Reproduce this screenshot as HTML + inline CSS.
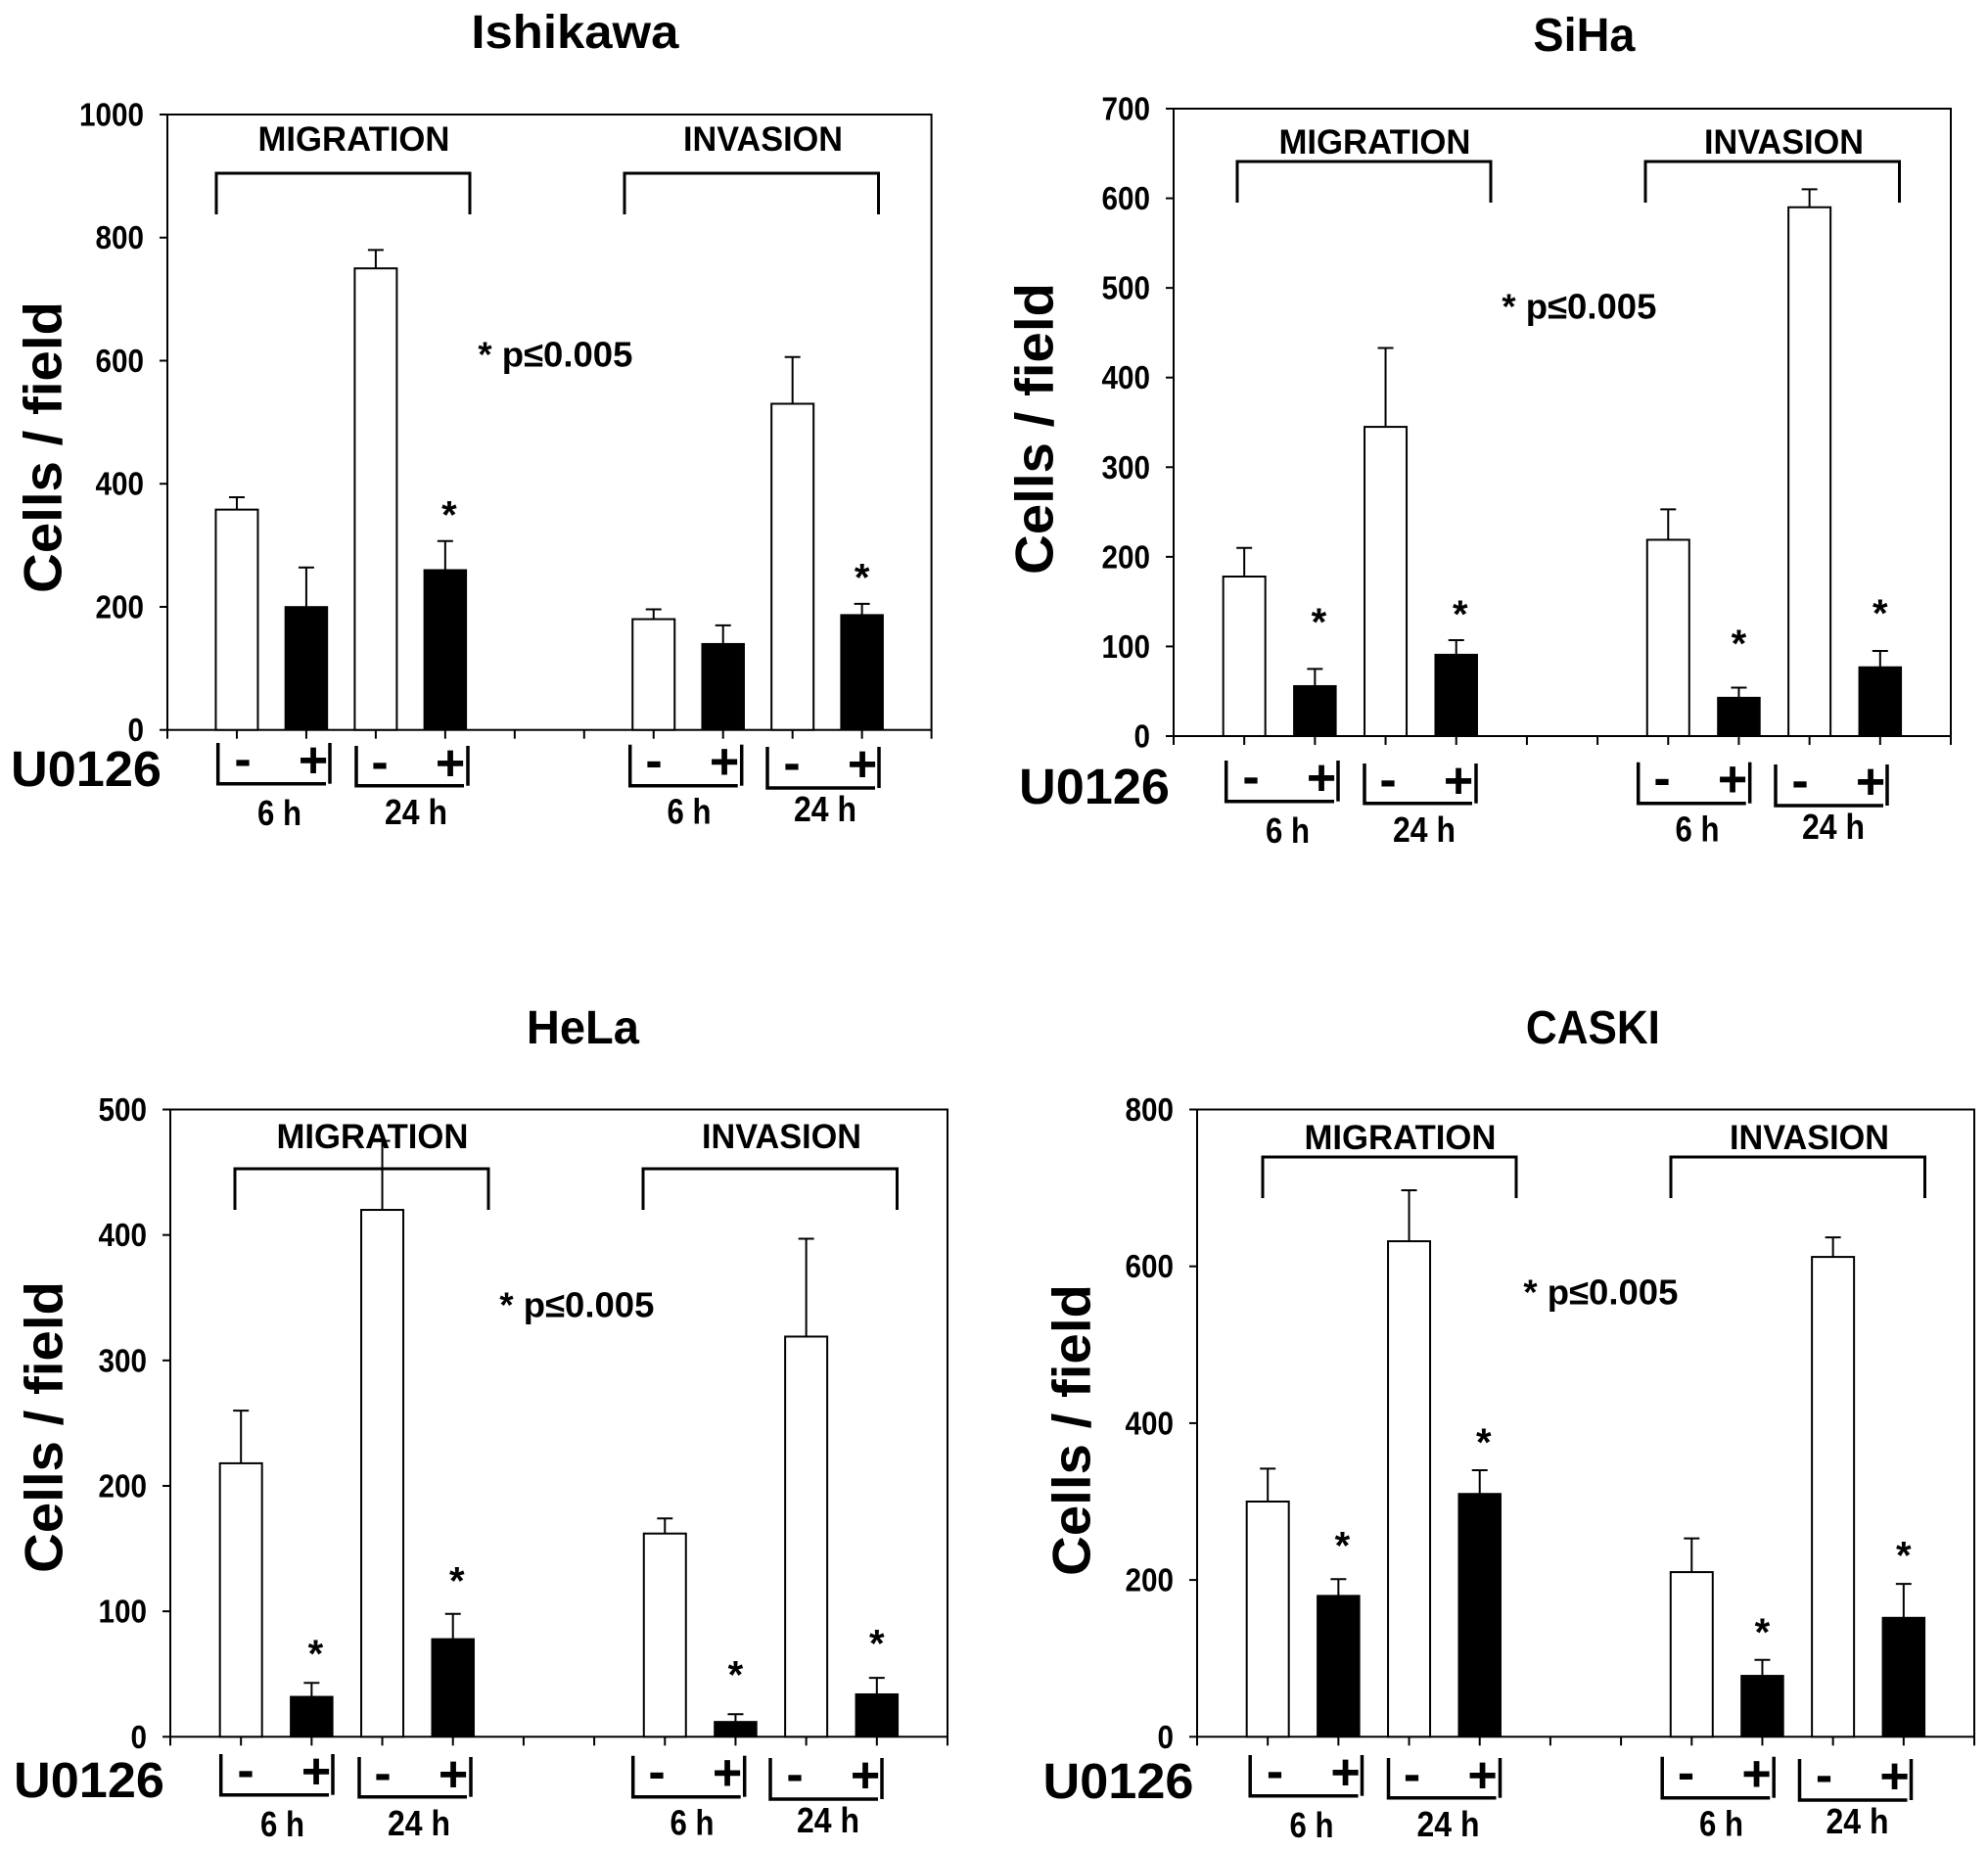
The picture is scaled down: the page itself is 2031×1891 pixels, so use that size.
<!DOCTYPE html>
<html lang="en">
<head>
<meta charset="utf-8">
<title>Cell migration and invasion with U0126</title>
<style>
html,body{margin:0;padding:0;background:#fff;width:2031px;height:1891px;overflow:hidden}
svg{display:block}
text{font-family:"Liberation Sans",sans-serif;font-weight:bold;fill:#000}
</style>
</head>
<body>
<svg id="figure" xmlns="http://www.w3.org/2000/svg" width="2031" height="1891" viewBox="0 0 2031 1891"></svg>
<script>
// ---- data ----
const categories = ['migration-6h-minus','migration-6h-plus','migration-24h-minus','migration-24h-plus','','','invasion-6h-minus','invasion-6h-plus','invasion-24h-minus','invasion-24h-plus'];

const ishikawaTicks = [0,200,400,600,800,1000];
const ishikawaMeans = [358,200,750,260,180,140,530,187];
const ishikawaErrors = [20,64,30,47,16,30,76,18];
const ishikawaStarGaps = [null,null,null,48,null,null,null,48];

const sihaTicks = [0,100,200,300,400,500,600,700];
const sihaMeans = [178,56,345,91,219,43,590,77];
const sihaErrors = [32,19,88,16,34,11,20,18];
const sihaStarGaps = [null,56,null,33,null,53,null,46];

const helaTicks = [0,100,200,300,400,500];
const helaMeans = [218,32,420,78,162,12,319,34];
const helaErrors = [42,11,55,20,12,6,78,13];
const helaStarGaps = [null,26,null,29,null,34,null,30];

const caskiTicks = [0,200,400,600,800];
const caskiMeans = [300,180,632,310,210,78,612,152];
const caskiErrors = [42,21,65,30,43,20,25,43];
const caskiStarGaps = [null,47,null,40,null,40,null,41];

const panels = [
  {id:'ishikawa',title:'Ishikawa',titleX:587.4,titleY:49,titleLen:212,ticks:ishikawaTicks,means:ishikawaMeans,errors:ishikawaErrors,stars:ishikawaStarGaps,
   left:171,right:951.6,top:117,bottom:745.7,yTitleX:62.5,yTitleY:457,
   topDx:0,topDy:0,labelDy:0,pX:488.4,pY:374.4,bottomDx:0,bottomDy:0},
  {id:'siha',title:'SiHa',titleX:1618.4,titleY:52,titleLen:104,ticks:sihaTicks,means:sihaMeans,errors:sihaErrors,stars:sihaStarGaps,
   left:1199,right:1993,top:111,bottom:752,yTitleX:1075.5,yTitleY:438,
   topDx:1043,topDy:-12,labelDy:3,pX:1534.4,pY:325.4,bottomDx:1030,bottomDy:18},
  {id:'hela',title:'HeLa',titleX:595.4,titleY:1066,titleLen:115,ticks:helaTicks,means:helaMeans,errors:helaErrors,stars:helaStarGaps,
   left:174,right:968,top:1133.5,bottom:1774.3,yTitleX:63.5,yTitleY:1458,
   topDx:19,topDy:1017,labelDy:1019,pX:510.4,pY:1345.4,bottomDx:3,bottomDy:1033},
  {id:'caski',title:'CASKI',titleX:1627.4,titleY:1066,titleLen:137,ticks:caskiTicks,means:caskiMeans,errors:caskiErrors,stars:caskiStarGaps,
   left:1223,right:2017,top:1133.5,bottom:1774.3,yTitleX:1113.5,yTitleY:1461,
   topDx:1069,topDy:1005,labelDy:1020,pX:1556.4,pY:1332.4,bottomDx:1054.5,bottomDy:1034}
];

// ---- drawing helpers ----
const NS = 'http://www.w3.org/2000/svg';
const svg = document.getElementById('figure');
function mk(parent, tag, attrs){
  const el = document.createElementNS(NS, tag);
  for (const k in attrs) el.setAttribute(k, attrs[k]);
  parent.appendChild(el);
  return el;
}
function line(parent, x1, y1, x2, y2, w){
  return mk(parent, 'line', {x1:x1, y1:y1, x2:x2, y2:y2, stroke:'#000', 'stroke-width':w});
}
function txt(parent, s, x, y, fs, len, anchor){
  const attrs = {x:x, y:y, 'font-size':fs, 'text-anchor':anchor || 'middle'};
  if (len) { attrs.textLength = len; attrs.lengthAdjust = 'spacingAndGlyphs'; }
  const el = mk(parent, 'text', attrs);
  el.textContent = s;
  return el;
}

function drawPanel(p){
  const g = mk(svg, 'g', {});
  
  

  const yMax = p.ticks[p.ticks.length - 1];
  const yScale = v => p.bottom - (v / yMax) * (p.bottom - p.top);
  const step = (p.right - p.left) / (categories.length + 1);
  const xScale = i => p.left + (i + 1) * step;
  const barW = 43;

  // title
  const title = txt(g, p.title, p.titleX, p.titleY, 48, p.titleLen);
  
  

  // plot frame
  const frame = mk(g, 'rect', {x:p.left, y:p.top, width:p.right - p.left, height:p.bottom - p.top, fill:'none', stroke:'#000', 'stroke-width':2});
  
  

  // y axis ticks and labels
  p.ticks.forEach(t => {
    const y = yScale(t);
    const tick = line(g, p.left - 8, y, p.left, y, 2);
    
    
    const s = String(t);
    const lab = txt(g, s, p.left - 24, y + 11.5, 33, s.length * 16.5, 'end');
    
    
  });

  // x axis ticks
  for (let i = -1; i <= categories.length; i++) {
    const x = xScale(i);
    const tick = line(g, x, p.bottom, x, p.bottom + 9, 2);
    
    
  }

  // y axis title
  const yt = txt(g, 'Cells / field', 0, 0, 55, 298);
  yt.setAttribute('transform', 'translate(' + p.yTitleX + ',' + p.yTitleY + ') rotate(-90)');
  
  

  // top brackets and labels
  [[221, 480, 'MIGRATION', 361.5, 196], [638, 897.5, 'INVASION', 779.5, 163]].forEach(b => {
    const x1 = b[0] + p.topDx, x2 = b[1] + p.topDx, yT = 177 + p.topDy, yB = 219 + p.topDy;
    const br = mk(g, 'path', {d:'M' + x1 + ' ' + yB + 'V' + yT + 'H' + x2 + 'V' + yB, fill:'none', stroke:'#000', 'stroke-width':3});
    
    
    const lb = txt(g, b[2], b[3] + p.topDx, 154 + p.labelDy, 35, b[4]);
    
    
  });

  // p-value note
  const note = txt(g, '* p\u22640.005', p.pX, p.pY, 36, 158, 'start');
  
  

  // bars, error bars, significance stars
  let idx = 0;
  categories.forEach((cat, i) => {
    if (!cat) return;
    const k = idx++;
    const x = xScale(i);
    const isTreated = k % 2 === 1;
    const y0 = yScale(p.means[k]);
    const yErr = yScale(p.means[k] + p.errors[k]);

    const errLine = line(g, x, y0, x, yErr, 2);
    
    
    const errCap = line(g, x - 8, yErr, x + 8, yErr, 2);
    
    

    const bar = mk(g, 'rect', {x:x - barW / 2, y:y0, width:barW, height:p.bottom - y0, fill:isTreated ? '#000' : '#fff', stroke:'#000', 'stroke-width':isTreated ? 1.5 : 2});
    
    

    if (p.stars[k] !== null) {
      const starY = yScale(p.means[k] + p.errors[k] + p.stars[k]);
      const star = txt(g, '*', x + (k < 4 ? 4 : 0), starY + 17, 40);
      
      
    }
  });

  // treatment labels below axis
  const u = txt(g, 'U0126', 88 + p.bottomDx, 803 + p.bottomDy, 51, 154);
  
  

  [
    [222.7, 337, 759, 800.7, 248, 320, '6 h', 285.5, 843, 45],
    [364, 478, 762, 802.7, 388, 460, '24 h', 425, 842, 64],
    [643.7, 757.7, 760.7, 802.7, 668, 740, '6 h', 704, 841.7, 45],
    [784, 898, 763, 805, 809, 881, '24 h', 843, 839, 64]
  ].forEach(t => {
    const dx = p.bottomDx, dy = p.bottomDy;
    const x1 = t[0] + dx, x2 = t[1] + dx, yT = t[2] + dy, yB = t[3] + dy;
    const br = mk(g, 'path', {d:'M' + x1 + ' ' + yT + 'V' + yB + 'H' + (x2 - 4), fill:'none', stroke:'#000', 'stroke-width':3.5});
    
    
    const rt = line(g, x2, yT, x2, yB, 3.5);
    
    
    const minus = txt(g, '-', t[4] + dx, yT + 34, 52);
    
    
    const plus = txt(g, '+', t[5] + dx, yT + 35, 52);
    
    
    const time = txt(g, t[6], t[7] + dx, t[8] + dy, 36, t[9]);
    
    
  });
}

panels.forEach(drawPanel);
</script>
</body>
</html>
